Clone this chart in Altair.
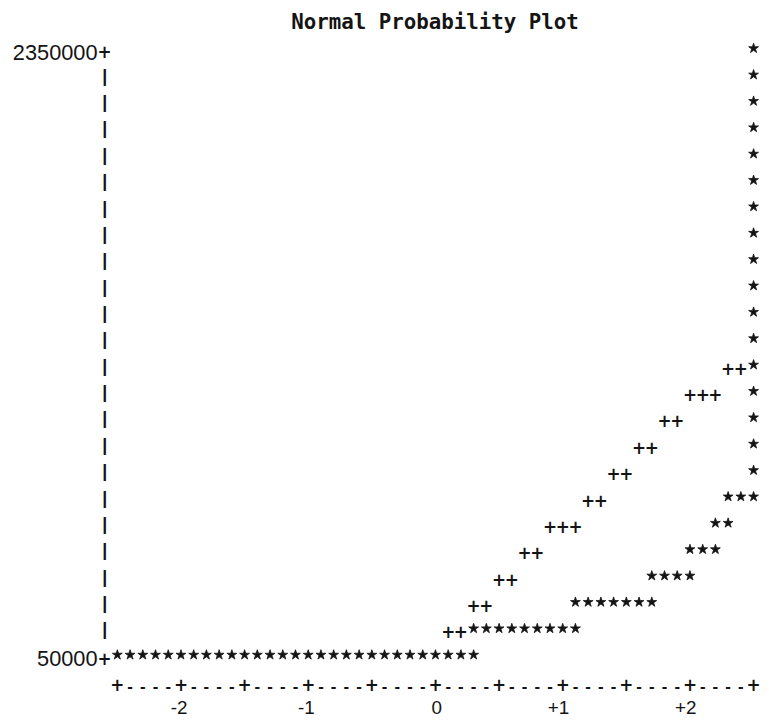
import altair as alt
import pandas as pd

TITLE = "Normal Probability Plot"

# ---- data ----------------------------------------------------------------
# value of each printed line that holds data points ('*')
star_line_value = [
    2350000, 2250000, 2150000, 2050000, 1950000, 1850000, 1750000, 1650000,
    1550000, 1450000, 1350000, 1250000, 1150000, 1050000, 950000, 850000,
    750000, 650000, 550000, 450000, 350000, 250000, 150000, 50000,
]
# normal quantiles of the '*' on each of those lines
star_line_z = [
    [2.5], [2.5], [2.5], [2.5], [2.5], [2.5], [2.5], [2.5],
    [2.5], [2.5], [2.5], [2.5], [2.5], [2.5], [2.5], [2.5],
    [2.5],
    [2.3, 2.4, 2.5],
    [2.2, 2.3],
    [2.0, 2.1, 2.2],
    [1.7, 1.8, 1.9, 2.0],
    [1.1, 1.2, 1.3, 1.4, 1.5, 1.6, 1.7],
    [0.3, 0.4, 0.5, 0.6, 0.7, 0.8, 0.9, 1.0, 1.1],
    [-2.5, -2.4, -2.3, -2.2, -2.1, -2.0, -1.9, -1.8, -1.7, -1.6, -1.5, -1.4,
     -1.3, -1.2, -1.1, -1.0, -0.9, -0.8, -0.7, -0.6, -0.5, -0.4, -0.3, -0.2,
     -0.1, 0.0, 0.1, 0.2, 0.3],
]
# reference line ('+')
ref_line_value = [1150000, 1050000, 950000, 850000, 750000, 650000,
                  550000, 450000, 350000, 250000, 150000]
ref_line_z = [
    [2.3, 2.4],
    [2.0, 2.1, 2.2],
    [1.8, 1.9],
    [1.6, 1.7],
    [1.4, 1.5],
    [1.2, 1.3],
    [0.9, 1.0, 1.1],
    [0.7, 0.8],
    [0.5, 0.6],
    [0.3, 0.4],
    [0.1, 0.2],
]
y_ticks = [50000, 2350000]
x_ticks = [-2, -1, 0, 1, 2]
x_axis_plus = [-2.5, -2.0, -1.5, -1.0, -0.5, 0.0, 0.5, 1.0, 1.5, 2.0, 2.5]

# ---- printer grid geometry ----------------------------------------------
LINE_STEP = 100000          # value per printed line
COL_STEP = 0.1              # z per printed column
W, H = 655, 660
Z0_PX, PX_PER_Z = 333.0, 128.6
ROW0_PX, PX_PER_ROW = 13.0, 26.65
TOP_VALUE = y_ticks[-1]
x_dom = [-Z0_PX / PX_PER_Z, (W - Z0_PX) / PX_PER_Z]
y_dom = [TOP_VALUE - (H - ROW0_PX) / PX_PER_ROW * LINE_STEP,
         TOP_VALUE + ROW0_PX / PX_PER_ROW * LINE_STEP]

stars = pd.DataFrame(
    [{"z": z, "v": v} for v, zs in zip(star_line_value, star_line_z) for z in zs]
)
refs = pd.DataFrame(
    [{"z": z, "v": v} for v, zs in zip(ref_line_value, ref_line_z) for z in zs]
)

# axis characters of the printer plot
y_axis_z = x_axis_plus[0] - COL_STEP
n_lines = int(round((y_ticks[-1] - y_ticks[0]) / LINE_STEP))
frame_plus = [{"z": y_axis_z, "v": t} for t in y_ticks]
frame_plus += [{"z": z, "v": y_ticks[0] - LINE_STEP} for z in x_axis_plus]
frame_bar = [{"z": y_axis_z, "v": y_ticks[0] + k * LINE_STEP} for k in range(1, n_lines)]
n_cols = int(round((x_axis_plus[-1] - x_axis_plus[0]) / COL_STEP))
frame_dash = []
for k in range(n_cols + 1):
    z = round(x_axis_plus[0] + k * COL_STEP, 1)
    if z not in x_axis_plus:
        frame_dash.append({"z": z, "v": y_ticks[0] - LINE_STEP})

INK = "#141414"
LABEL_FONT = "Liberation Sans"
STAR_PATH = ("M0,-1L0.2245,-0.309L0.951,-0.309L0.363,0.118L0.588,0.809L0,0.382"
             "L-0.588,0.809L-0.363,0.118L-0.951,-0.309L-0.2245,-0.309Z")

X = alt.X(
    "z:Q",
    scale=alt.Scale(domain=x_dom, nice=False, zero=False),
    axis=alt.Axis(
        orient="bottom",
        values=x_ticks, title=None, domain=False, ticks=False, grid=False,
        labelExpr="datum.value > 0 ? '+' + datum.value : '' + datum.value",
        labelFont=LABEL_FONT, labelFontSize=19, labelColor=INK,
        labelAlign="right", labelOffset=6, labelPadding=8,
        labelFlush=False, labelOverlap=False,
    ),
)
Y = alt.Y(
    "v:Q",
    scale=alt.Scale(domain=y_dom, nice=False, zero=False),
    axis=alt.Axis(
        orient="left",
        values=y_ticks, title=None, domain=False, ticks=False, grid=False,
        format="d", labelFont=LABEL_FONT, labelFontSize=22, labelColor=INK,
        labelBaseline="middle", labelPadding=9, labelOffset=2,
        labelFlush=False, labelOverlap=False,
    ),
)

star_layer = alt.Chart(stars).mark_point(
    shape=STAR_PATH, filled=True, size=110, color=INK, opacity=1, yOffset=-2,
    stroke=INK, strokeWidth=0.8
).encode(x=X, y=Y)

plus_kw = dict(text="+", font="DejaVu Sans", fontWeight="bold", fontSize=17,
               color=INK, baseline="middle", align="center", dy=3)
ref_layer = alt.Chart(refs).mark_text(**plus_kw).encode(x=X, y=Y)
frame_plus_layer = alt.Chart(pd.DataFrame(frame_plus)).mark_text(**plus_kw).encode(x=X, y=Y)
frame_bar_layer = alt.Chart(pd.DataFrame(frame_bar)).mark_text(
    text="|", font=LABEL_FONT, fontWeight="bold", fontSize=18, color=INK,
    baseline="middle", align="center"
).encode(x=X, y=Y)
frame_dash_layer = alt.Chart(pd.DataFrame(frame_dash)).mark_text(
    text="-", font=LABEL_FONT, fontWeight="bold", fontSize=17, color=INK,
    baseline="middle", align="center", dy=4
).encode(x=X, y=Y)

chart = alt.layer(
    frame_bar_layer, frame_dash_layer, frame_plus_layer, ref_layer, star_layer
).properties(
    width=W,
    height=H,
    autosize=alt.AutoSizeParams(type="none"),
    padding={"left": 99, "top": 26, "right": 7, "bottom": 30},
    title=alt.TitleParams(
        TITLE, orient="top", font="DejaVu Sans Mono", fontSize=21,
        fontWeight="bold", color=INK, anchor="middle", frame="group",
        dx=5, offset=5,
    ),
).configure(background="white").configure_view(stroke=None)

chart.save("out.html", embed_options={"renderer": "svg", "actions": False})
